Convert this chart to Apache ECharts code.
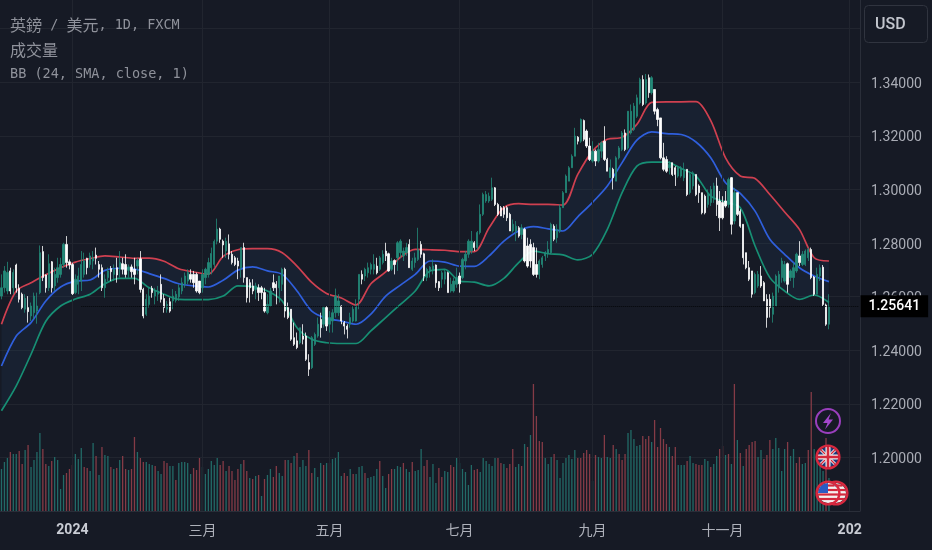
<!DOCTYPE html>
<html>
<head>
<meta charset="utf-8">
<style>html,body{margin:0;padding:0;background:#161a25}#c{width:932px;height:550px}</style>
<script src="https://cdn.jsdelivr.net/npm/echarts@6/dist/echarts.min.js"></script>
</head>
<body>
<div id="c"></div>
<script>
// Prices are quoted in 1/10000 of a dollar.
const high = [12683,12714,12730,12708,12702,12723,12646,12615,12609,12602,12578,12615,12615,12791,12789,12683,12758,12733,12708,12745,12745,12801,12826,12739,12727,12683,12708,12770,12764,12745,12764,12770,12783,12733,12720,12683,12708,12714,12720,12745,12770,12745,12758,12720,12720,12745,12745,12770,12633,12609,12633,12640,12633,12640,12683,12609,12584,12596,12628,12621,12646,12671,12690,12702,12702,12696,12690,12658,12702,12708,12745,12783,12813,12891,12857,12813,12820,12832,12770,12752,12745,12783,12801,12671,12665,12665,12652,12646,12640,12633,12609,12633,12683,12658,12677,12708,12708,12578,12553,12503,12466,12484,12497,12466,12385,
12453,12466,12522,12540,12565,12565,12546,12553,12630,12609,12568,12509,12497,12540,12565,12590,12683,12698,12708,12727,12727,12758,12745,12752,12773,12801,12764,12745,12739,12807,12814,12783,12801,12814,12745,12764,12857,12807,12764,12708,12714,12739,12720,12658,12696,12702,12693,12671,12671,12708,12690,12745,12770,12814,12845,12807,12845,12944,12988,12994,12988,13044,13009,12950,12938,12938,12938,12913,12888,12882,12863,12870,12857,12820,12814,12801,12783,12739,12752,12770,12807,12876,12870,12870,
12944,12994,13056,13087,13131,13230,13199,13265,13261,13224,13193,13180,13149,13174,13180,13236,13118,13112,13081,13124,13162,13218,13224,13292,13317,13323,13354,13417,13426,13431,13429,13423,13373,13305,13267,13174,13124,13106,13100,13087,13087,13087,13100,13075,13068,13068,13056,13019,12988,12981,13000,13013,13025,13044,12994,12975,12994,13044,13046,13006,12988,12926,12870,12764,12733,12696,12690,12696,12714,12658,12609,12609,12615,12683,12696,12745,12733,12727,12702,12727,12764,12807,12770,12776,12783,12783,12677,12708,12720,12718,12574,12609];
const low = [12590,12615,12609,12609,12609,12615,12578,12553,12540,12503,12509,12515,12499,12609,12658,12615,12621,12615,12621,12652,12671,12708,12708,12702,12606,12609,12609,12621,12671,12683,12708,12702,12720,12671,12621,12596,12658,12658,12658,12652,12671,12683,12671,12671,12671,12646,12683,12615,12519,12528,12559,12596,12571,12584,12578,12540,12540,12540,12553,12578,12584,12609,12633,12646,12652,12633,12615,12609,12615,12646,12671,12683,12708,12795,12801,12745,12745,12739,12720,12714,12665,12671,12652,12578,12578,12609,12590,12584,12590,12540,12534,12565,12621,12571,12578,12621,12522,12516,12435,12416,12404,12422,12422,12360,12304,
12330,12416,12447,12447,12484,12472,12466,12466,12522,12528,12497,12459,12444,12484,12503,12507,12553,12646,12658,12671,12683,12683,12683,12696,12720,12733,12693,12696,12683,12696,12745,12733,12752,12708,12696,12708,12733,12745,12658,12658,12671,12683,12633,12621,12633,12646,12615,12615,12615,12633,12615,12665,12702,12745,12760,12770,12776,12832,12901,12950,12950,12957,12938,12901,12901,12894,12882,12845,12839,12807,12820,12814,12727,12708,12708,12677,12671,12665,12708,12733,12745,12758,12807,12801,
12838,12932,12988,13031,13081,13124,13168,13174,13180,13155,13106,13100,13087,13100,13118,13106,13068,13044,13000,13031,13112,13143,13143,13149,13205,13218,13267,13317,13311,13317,13342,13354,13280,13236,13112,13068,13062,13056,13050,13013,13044,13044,13031,12975,12981,13000,12975,12950,12907,12907,12932,12938,12950,12901,12845,12888,12932,12932,12832,12870,12901,12857,12720,12702,12658,12596,12609,12633,12633,12584,12484,12522,12503,12565,12615,12652,12652,12615,12658,12633,12689,12714,12714,12714,12733,12665,12603,12609,12658,12565,12491,12478];
const bodyTop = [12633,12696,12690,12696,12690,12718,12631,12609,12594,12559,12565,12602,12565,12764,12768,12681,12723,12730,12683,12708,12720,12795,12795,12730,12720,12665,12677,12720,12733,12743,12752,12745,12755,12720,12708,12665,12696,12705,12702,12708,12727,12723,12720,12711,12711,12702,12735,12741,12627,12590,12602,12631,12621,12621,12646,12593,12571,12581,12602,12609,12633,12652,12677,12690,12683,12683,12683,12658,12683,12702,12727,12761,12806,12852,12852,12807,12807,12797,12758,12745,12733,12783,12783,12671,12652,12640,12640,12633,12633,12615,12571,12621,12652,12646,12677,12702,12702,12559,12553,12447,12435,12484,12453,12453,12354,
12447,12459,12497,12515,12559,12559,12522,12540,12602,12584,12565,12503,12490,12522,12553,12565,12683,12683,12702,12708,12720,12720,12714,12745,12758,12770,12760,12733,12735,12801,12807,12770,12783,12795,12733,12745,12776,12795,12760,12702,12710,12714,12718,12656,12689,12693,12689,12646,12658,12671,12677,12739,12758,12807,12807,12801,12839,12907,12981,12981,12975,13006,13006,12944,12932,12932,12932,12907,12870,12863,12857,12857,12851,12789,12795,12783,12720,12733,12745,12764,12776,12870,12863,12851,
12932,12988,13050,13081,13124,13199,13195,13261,13257,13218,13162,13143,13143,13149,13174,13180,13112,13081,13075,13118,13155,13211,13211,13292,13292,13311,13342,13410,13410,13410,13417,13417,13373,13298,13267,13118,13112,13093,13100,13081,13081,13081,13075,13075,13056,13062,13056,13013,12988,12975,12981,13000,13013,13013,12957,12951,12957,13037,13044,12988,12988,12919,12870,12764,12708,12696,12683,12683,12677,12652,12590,12590,12602,12677,12683,12733,12720,12723,12696,12708,12758,12752,12758,12770,12776,12776,12673,12683,12708,12710,12569,12564];
const bodyBottom = [12602,12633,12621,12621,12633,12633,12590,12559,12553,12544,12528,12540,12546,12615,12671,12633,12633,12633,12640,12671,12683,12720,12727,12718,12611,12615,12646,12658,12683,12708,12720,12733,12743,12702,12633,12633,12671,12693,12683,12681,12702,12702,12683,12698,12693,12683,12714,12627,12528,12534,12571,12615,12602,12609,12590,12559,12553,12546,12584,12586,12599,12621,12646,12658,12665,12652,12621,12615,12633,12671,12683,12708,12720,12807,12814,12793,12770,12758,12727,12720,12714,12708,12671,12596,12633,12621,12627,12615,12615,12546,12540,12565,12633,12633,12633,12646,12546,12522,12441,12422,12410,12428,12441,12366,12329,
12335,12422,12453,12484,12497,12490,12497,12509,12540,12540,12509,12490,12478,12497,12509,12509,12590,12665,12677,12689,12702,12702,12689,12702,12727,12752,12696,12702,12720,12745,12764,12752,12764,12708,12702,12727,12739,12758,12677,12671,12696,12696,12652,12633,12665,12665,12615,12621,12621,12646,12648,12671,12733,12758,12770,12783,12783,12839,12907,12957,12957,12963,12944,12907,12901,12907,12894,12845,12845,12845,12826,12832,12733,12714,12733,12683,12683,12683,12720,12752,12760,12764,12814,12820,
12845,12932,12988,13031,13081,13124,13180,13180,13187,13162,13112,13106,13106,13106,13143,13112,13068,13044,13044,13031,13118,13149,13149,13155,13211,13224,13273,13323,13317,13323,13361,13361,13292,13261,13118,13075,13068,13081,13056,13056,13050,13050,13044,12981,12988,13013,12981,12988,12913,12913,12944,12951,12963,12944,12894,12894,12938,12944,12870,12882,12907,12863,12745,12708,12665,12609,12615,12640,12640,12584,12522,12559,12534,12565,12633,12671,12658,12646,12671,12671,12696,12727,12720,12720,12745,12671,12609,12609,12677,12571,12497,12497];
// 1 = close above open, 0 = close below open
const rising = "1110100010 1111001011 1100011110 1100011010 1001001001 1011001011 1111000011 1111001000 0100001000 1100110000 0100011101 0111100011 1101111011 0010111101 1100111001 1011101111 0111111000 0001101000 0011111011 1111101000 1011001011 1011111010 1000001001 1101100001 1100001010 0000011000 0111110111 01110011001".replace(/ /g,'');

const volumes = [42,49,53,59,57,57,60,47,61,66,44,51,59,78,62,47,45,50,54,51,22,36,38,42,46,57,52,63,44,43,40,68,55,36,64,56,55,44,42,43,51,55,42,41,42,74,59,53,49,49,47,
46,45,40,37,50,48,45,45,31,48,49,49,48,37,43,41,53,44,37,42,50,46,53,46,50,40,45,40,31,42,47,51,40,33,32,35,36,15,32,36,42,34,45,38,35,51,51,48,55,58,44,
51,45,61,38,43,34,48,46,48,48,52,53,59,35,38,35,42,37,37,44,45,38,33,34,35,42,50,35,23,37,42,42,45,44,48,42,39,49,40,41,62,45,51,34,47,28,43,
34,40,39,46,44,53,48,42,39,26,46,41,42,39,53,50,47,45,53,53,48,47,43,47,62,44,47,45,67,64,76,127,95,70,69,53,47,54,57,51,33,48,53,56,52,61,53,53,58,61,57,30,56,54,53,76,54,53,66,62,57,51,57,78,81,72,65,66,75,72,75,69,91,64,83,72,67,64,55,64,46,46,46,50,55,48,47,46,46,52,50,
44,47,55,62,65,56,57,47,127,71,58,45,62,66,69,70,54,61,52,56,71,62,73,63,40,62,69,55,62,48,54,47,48,61,119,62,50,50,40,73,33];
const volumeRising = "1110110010 1111001011 1100011100 1101011010 1001001001 1 1011001101 1111000111 1110010000 1001010101 1001101010 1 1100111010 1111001011 1011110110 0111011011 1001110 0110011111 1001111110 0100011010 1000011101 1111110000 0101101101 0001111100 0100000100 1110110001 1 0110010101 0100001100 0111110110 01100111101".replace(/ /g,'');

const bandBars = [0,5,10,15,20,25,30,35,40,45,50,55,60,65,70,75,80,85,90,95,100,105,110,115,120,125,130,135,140,145,150,155,160,165,170,175,180,185,190,195,200,205,210,215,220,225,230,235,240,245,250,255,260,265,270,275,280];
const upper = [12497,12621,12652,12682,12708,12729,12742,12752,12748,12743,12744,12732,12704,12692,12684,12750,12775,12779,12779,12764,12714,12653,12612,12595,12569,12648,12692,12747,12776,12775,12773,12768,12768,12857,12932,12947,12944,12944,12942,13056,13143,13187,13195,13243,13325,13327,13327,13328,13257,13118,13050,13041,12981,12916,12851,12745,12733];
const basis = [12341,12453,12503,12584,12636,12658,12662,12698,12706,12703,12686,12668,12648,12640,12636,12661,12699,12711,12696,12683,12621,12546,12519,12509,12497,12535,12602,12643,12683,12733,12729,12714,12713,12752,12807,12845,12861,12853,12845,12898,12952,13013,13100,13184,13215,13208,13205,13177,13118,13025,12985,12919,12814,12758,12708,12677,12656];
const lower = [12174,12267,12385,12508,12565,12591,12609,12648,12668,12668,12633,12609,12590,12589,12589,12602,12640,12637,12621,12584,12484,12441,12428,12425,12425,12472,12522,12571,12621,12696,12702,12658,12654,12640,12668,12727,12770,12760,12756,12737,12758,12851,12988,13087,13102,13102,13078,13050,12975,12953,12932,12789,12671,12621,12590,12606,12578];

const tickBars = [24,68,111,155,200,244,287];
const tickLabels = ['2024','三月','五月','七月','九月','十一月','202'];
const lastPrice = 1.25641;
const priceTicks = {min:1.18, max:1.3707, step:0.02};
const titleLines = ['英鎊 / 美元, 1D, FXCM','成交量','BB (24, SMA, close, 1)'];
const categoryCount = 291;

const P = v => v / 10000;
const TEAL = '#238a78', WHITE = '#ffffff';
const categories = Array.from({length: categoryCount}, (_, i) => String(i));
const candleData = high.map((h, i) => {
  const up = rising[i] === '1';
  return [P(up ? bodyBottom[i] : bodyTop[i]), P(up ? bodyTop[i] : bodyBottom[i]), P(low[i]), P(h)];
});
const bandLine = arr => bandBars.map((b, i) => [b, P(arr[i])]);

const mono = '"DejaVu Sans Mono","Liberation Mono",monospace';
const cjk = '"Noto Sans CJK TC","Noto Sans",sans-serif';
const titleColor = '#8f929b';
const rich = {
  m: {font: '13.5px ' + mono, fill: titleColor, color: titleColor},
  c: {font: '16px ' + cjk, fill: titleColor, color: titleColor}
};
function titleText(y, text) {
  return {type: 'text', x: 10, y, z: 50, silent: true, style: {text, rich, verticalAlign: 'middle', fill: titleColor}};
}
const dot = (cx, cy, r, fill, stroke, lw) => ({type: 'circle', shape: {cx, cy, r}, z: 60, silent: true, style: {fill: fill || 'transparent', stroke: stroke || null, lineWidth: lw || 0}});
const seg = (x1, y1, x2, y2, stroke, lw) => ({type: 'line', shape: {x1, y1, x2, y2}, z: 61, silent: true, style: {stroke, lineWidth: lw}});
function flagUK(cx, cy) {
  const R = '#d3283c', W = '#f2f2f2', d = 7;
  return [dot(cx, cy, 10, '#1f3a7d'),
    seg(cx-d, cy-d, cx+d, cy+d, W, 3), seg(cx-d, cy+d, cx+d, cy-d, W, 3),
    seg(cx-d, cy-d, cx+d, cy+d, R, 1.2), seg(cx-d, cy+d, cx+d, cy-d, R, 1.2),
    seg(cx-10, cy, cx+10, cy, W, 5), seg(cx, cy-10, cx, cy+10, W, 5),
    seg(cx-10, cy, cx+10, cy, R, 2.6), seg(cx, cy-10, cx, cy+10, R, 2.6),
    {...dot(cx, cy, 11.4, null, '#d8283f', 2.4), z: 62}];
}
function flagUS(cx, cy) {
  const R = '#d3283c', rows = [[-7.5,6.6],[-3,9.5],[1.5,9.9],[6,8]];
  const out = [dot(cx, cy, 10, '#f4f0f0')];
  rows.forEach(([o, h]) => out.push(seg(cx-h, cy+o, cx+h, cy+o, R, 2.2)));
  out.push({type: 'sector', shape: {cx, cy, r: 10, startAngle: Math.PI, endAngle: 1.5*Math.PI}, z: 61, silent: true, style: {fill: '#2a5bc4'}});
  out.push({...dot(cx, cy, 11.4, null, '#d8283f', 2.4), z: 62});
  return out;
}
const icons = [
  dot(828, 421, 12, '#161a25', '#9a3fbd', 2),
  {type: 'polygon', shape: {points: [[831,413],[823,423],[827.5,423],[825,429.5],[833,419.5],[828.5,419.5]]}, z: 62, silent: true, style: {fill: '#a447cc'}},
  ...flagUS(836, 493).map(e => ({...e, z: e.z - 5})),
  ...flagUK(828, 457),
  ...flagUS(828, 493)
];

const chart = echarts.init(document.getElementById('c'), null, {renderer: 'canvas'});
chart.setOption({
  animation: false,
  backgroundColor: '#161a25',
  grid: {left: 0, right: 72, top: 0, bottom: 39, containLabel: false, outerBoundsMode: 'none'},
  xAxis: {
    type: 'category', data: categories, boundaryGap: true,
    axisLine: {show: true, lineStyle: {color: '#2a2e39', width: 1}},
    axisTick: {show: false},
    splitLine: {show: false},
    axisLabel: {
      interval: i => tickBars.includes(i),
      margin: 12, hideOverlap: false,
      color: '#aeb1ba', fontSize: 14, fontFamily: '"Noto Sans CJK SC"',
      formatter: v => {
        const k = tickBars.indexOf(+v);
        if (k < 0) return '';
        const t = tickLabels[k];
        return /^\d/.test(t) ? '{year|' + t + '}' : t;
      },
      rich: {
        year: {fontFamily: 'Roboto', fontWeight: 'bold', fontSize: 14, color: '#c9ccd4'}
      }
    }
  },
  yAxis: [
    {
      type: 'value', position: 'right', min: priceTicks.min, max: priceTicks.max, interval: priceTicks.step,
      axisLine: {show: true, lineStyle: {color: '#2a2e39', width: 1}},
      axisTick: {show: false},
      splitLine: {show: true, showMaxLine: false, showMinLine: false, lineStyle: {color: '#21252f', width: 1}},
      axisLabel: {
        margin: 11, color: '#a9acb5', fontFamily: 'Roboto', fontSize: 14,
        verticalAlign: 'top', lineHeight: 14, padding: [-5, 0, 0, 0],
        formatter: v => (v < 1.19 || v > 1.35) ? '' : v.toFixed(5)
      }
    },
    {type: 'value', min: 0, max: 511, show: false, splitLine: {show: false}}
  ],
  series: [
    {
      name: 'months', type: 'line', data: [], silent: true, z: 1,
      markLine: {
        silent: true, symbol: 'none', animation: false, label: {show: false},
        lineStyle: {color: '#21252f', width: 1, type: 'solid'},
        data: tickBars.map(b => ({xAxis: b}))
      }
    },
    {
      name: 'band', type: 'custom', silent: true, z: 2, data: [[0]],
      renderItem: (params, api) => {
        const top = bandBars.map((b, i) => api.coord([b, P(upper[i])]));
        const bot = bandBars.map((b, i) => api.coord([b, P(lower[i])])).reverse();
        return {type: 'polygon', shape: {points: top.concat(bot)}, style: {fill: 'rgba(38,84,128,0.13)'}};
      }
    },
    {
      name: 'volume', type: 'bar', yAxisIndex: 1, barWidth: 1.3, z: 3, silent: true,
      data: volumes.map((v, i) => ({value: v, itemStyle: {color: volumeRising[i] === '1' ? '#226a67' : '#853b46'}}))
    },
    {name: 'upper', type: 'line', data: bandLine(upper), showSymbol: false, smooth: 0.3, z: 4, silent: true, lineStyle: {color: '#cf4050', width: 1.7}},
    {name: 'basis', type: 'line', data: bandLine(basis), showSymbol: false, smooth: 0.3, z: 4, silent: true, lineStyle: {color: '#2f5fdc', width: 1.7}},
    {name: 'lower', type: 'line', data: bandLine(lower), showSymbol: false, smooth: 0.3, z: 4, silent: true, lineStyle: {color: '#178f74', width: 1.7}},
    {
      name: 'price', type: 'candlestick', data: candleData, barWidth: 1.8, z: 5, silent: true,
      itemStyle: {color: TEAL, color0: WHITE, borderColor: TEAL, borderColor0: WHITE, borderWidth: 0.8},
      markLine: {
        silent: true, symbol: 'none', animation: false, z: 6,
        lineStyle: {color: '#05060a', width: 1, type: 'dotted'},
        label: {
          show: true, position: 'end', distance: 2, formatter: () => lastPrice.toFixed(5),
          backgroundColor: '#000000', color: '#ffffff', fontFamily: 'Roboto', fontSize: 14, fontWeight: 500,
          padding: [4, 8, 4, 8]
        },
        data: [[{xAxis: 27, yAxis: lastPrice}, {xAxis: 290, yAxis: lastPrice}]]
      }
    }
  ],
  graphic: [
    ...titleLines.map((t, i) => {
      const y = [25, 50, 74][i];
      const marked = t.replace(/([\u4e00-\u9fff]+)/g, '\u0001$1\u0002');
      const parts = marked.split(/(\u0001[^\u0002]*\u0002)/).filter(Boolean).map(s =>
        s[0] === '\u0001' ? '{c|' + s.slice(1, -1) + '}' : '{m|' + s + '}').join('');
      return titleText(y, parts);
    }),
    {type: 'rect', shape: {x: 864.5, y: 5.5, width: 63, height: 37, r: 4}, z: 50, silent: true, style: {fill: '#161a25', stroke: '#30343f', lineWidth: 1}},
    {type: 'text', x: 875, y: 25, z: 51, silent: true, style: {text: 'USD', font: '500 16px Roboto', fill: '#c3c6ce', verticalAlign: 'middle'}},
    ...icons
  ]
});
</script>
</body>
</html>
